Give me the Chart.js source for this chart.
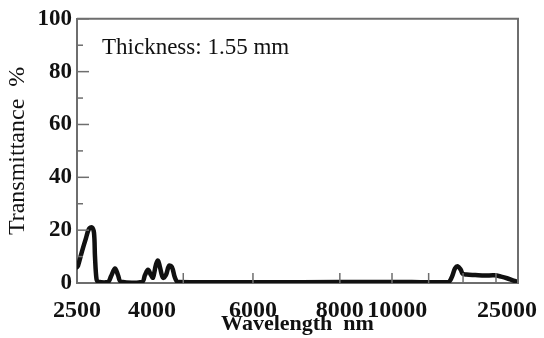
<!DOCTYPE html>
<html>
<head>
<meta charset="utf-8">
<script src="https://cdn.jsdelivr.net/npm/chart.js@4.4.1/dist/chart.umd.min.js"></script>
<style>
  html, body { margin: 0; padding: 0; background: #ffffff; }
  #wrap { width: 544px; height: 338px; }
</style>
</head>
<body>
<div id="wrap"><canvas id="c" width="544" height="338"></canvas></div>
<script>
// ---- data ----
const wavelengthNm = [2500, 2520, 2600, 2680, 2740, 2800, 2840, 2860, 2890, 2920, 3120, 3180, 3260, 3320, 3380,
  3800, 3860, 3920, 3980, 4020, 4079, 4119, 4158, 4218, 4277, 4337, 4396, 4455, 4515,
  8000, 12000, 16975, 17500, 17900, 18300, 18690, 18950, 19475, 20660, 21980, 23290, 24210, 25000, 25790, 26300];
const transmittance = [6.0, 6.5, 12, 17, 20.5, 21, 19, 10, 1.5, 0.5, 0.4, 2.5, 5.5, 3, 0.5,
  0.4, 3, 5, 3, 2, 7, 8.5, 6, 2, 3, 6.5, 6, 2, 0.4,
  0.4, 0.4, 0.4, 2.5, 5.5, 6.3, 5, 3.5, 3.2, 3, 2.8, 2.9, 2.4, 1.8, 0.9, 0.5];
const xTickLabels = [2500, 4000, 6000, 8000, 10000, 25000];
const xMinorTicks = [4620, 6000, 8000, 9820, 14300, 19000, 23500];
const yTickLabels = [0, 20, 40, 60, 80, 100];
const yMinorTicks = [10, 30, 50, 70, 90];
const noteText = 'Thickness: 1.55 mm';

// ---- non-uniform wavelength axis (piecewise linear, as in the source figure) ----
const axisNm   = [2500, 4000, 6000, 8000, 10000, 25000, 26320];
const axisFrac = [0, 0.170, 0.399, 0.596, 0.726, 0.975, 1];
function interp(v, xs, ys) {
  if (v <= xs[0]) return ys[0] + (v - xs[0]) * (ys[1] - ys[0]) / (xs[1] - xs[0]);
  for (let i = 1; i < xs.length; i++) {
    if (v <= xs[i]) return ys[i - 1] + (v - xs[i - 1]) * (ys[i] - ys[i - 1]) / (xs[i] - xs[i - 1]);
  }
  const n = xs.length - 1;
  return ys[n] + (v - xs[n]) * (ys[n] - ys[n - 1]) / (xs[n] - xs[n - 1]);
}
class PiecewiseScale extends Chart.LinearScale {
  getPixelForValue(v) { return this.getPixelForDecimal(interp(v, axisNm, axisFrac)); }
  getValueForPixel(p) { return interp(this.getDecimalForPixel(p), axisFrac, axisNm); }
}
PiecewiseScale.id = 'piecewise';
PiecewiseScale.defaults = Chart.LinearScale.defaults;
Chart.register(PiecewiseScale);

const GRAY = '#6e6e6e';
const SERIF = '"Liberation Serif", "Times New Roman", serif';

const frameAndTicks = {
  id: 'frameAndTicks',
  afterDraw(chart) {
    const { ctx, chartArea: a, scales } = chart;
    ctx.save();
    ctx.strokeStyle = GRAY;
    ctx.lineWidth = 2;
    // top and right frame
    ctx.beginPath();
    ctx.moveTo(a.left, a.top); ctx.lineTo(a.right, a.top); ctx.lineTo(a.right, a.bottom);
    ctx.stroke();
    // y ticks (inward)
    ctx.lineWidth = 1.5;
    yTickLabels.forEach(v => {
      const y = scales.y.getPixelForValue(v);
      ctx.beginPath(); ctx.moveTo(a.left, y); ctx.lineTo(a.left + 12, y); ctx.stroke();
    });
    yMinorTicks.forEach(v => {
      const y = scales.y.getPixelForValue(v);
      ctx.beginPath(); ctx.moveTo(a.left, y); ctx.lineTo(a.left + 6, y); ctx.stroke();
    });
    // x ticks (inward)
    xMinorTicks.forEach(v => {
      const x = scales.x.getPixelForValue(v);
      ctx.beginPath(); ctx.moveTo(x, a.bottom); ctx.lineTo(x, a.bottom - 10); ctx.stroke();
    });
    // note
    ctx.fillStyle = '#111';
    ctx.font = '23px ' + SERIF;
    ctx.textBaseline = 'alphabetic';
    ctx.textAlign = 'left';
    ctx.fillText(noteText, a.left + 25, a.top + 35);
    ctx.restore();
  }
};

new Chart(document.getElementById('c'), {
  type: 'line',
  data: {
    datasets: [{
      data: wavelengthNm.map((w, i) => ({ x: w, y: transmittance[i] })),
      borderColor: '#111111',
      borderWidth: 4.5,
      pointRadius: 0,
      tension: 0.35,
      borderJoinStyle: 'round',
      borderCapStyle: 'round',
      fill: false
    }]
  },
  options: {
    responsive: false,
    animation: false,
    events: [],
    layout: { padding: { top: 16, right: 26, left: 0, bottom: 0 } },
    plugins: { legend: { display: false }, tooltip: { enabled: false } },
    scales: {
      x: {
        type: 'piecewise',
        min: 2500,
        max: 26320,
        afterBuildTicks(s) { s.ticks = xTickLabels.map(v => ({ value: v })); },
        afterFit(s) { s.height = 55; s.paddingLeft = 0; s.paddingRight = 0; },
        grid: { display: false, drawTicks: false },
        border: { display: true, color: GRAY, width: 2 },
        ticks: {
          autoSkip: false, maxRotation: 0, padding: 13, color: '#111',
          font: { family: SERIF, size: 24, weight: 'bold' },
          callback: v => String(v)
        },
        title: {
          display: true, text: 'Wavelength  nm', color: '#111', padding: { top: -4, bottom: 0 },
          font: { family: SERIF, size: 22, weight: 'bold' }
        }
      },
      y: {
        min: 0, max: 100,
        afterBuildTicks(s) { s.ticks = yTickLabels.map(v => ({ value: v })); },
        afterFit(s) { s.width = 77; },
        grid: { display: false, drawTicks: false },
        border: { display: true, color: GRAY, width: 2 },
        ticks: {
          padding: 5, color: '#111',
          font: { family: SERIF, size: 23, weight: 'bold' }
        },
        title: {
          display: true, text: 'Transmittance  %', color: '#111', padding: { top: 3, bottom: 0 },
          font: { family: SERIF, size: 24 }
        }
      }
    }
  },
  plugins: [frameAndTicks]
});
</script>
</body>
</html>
